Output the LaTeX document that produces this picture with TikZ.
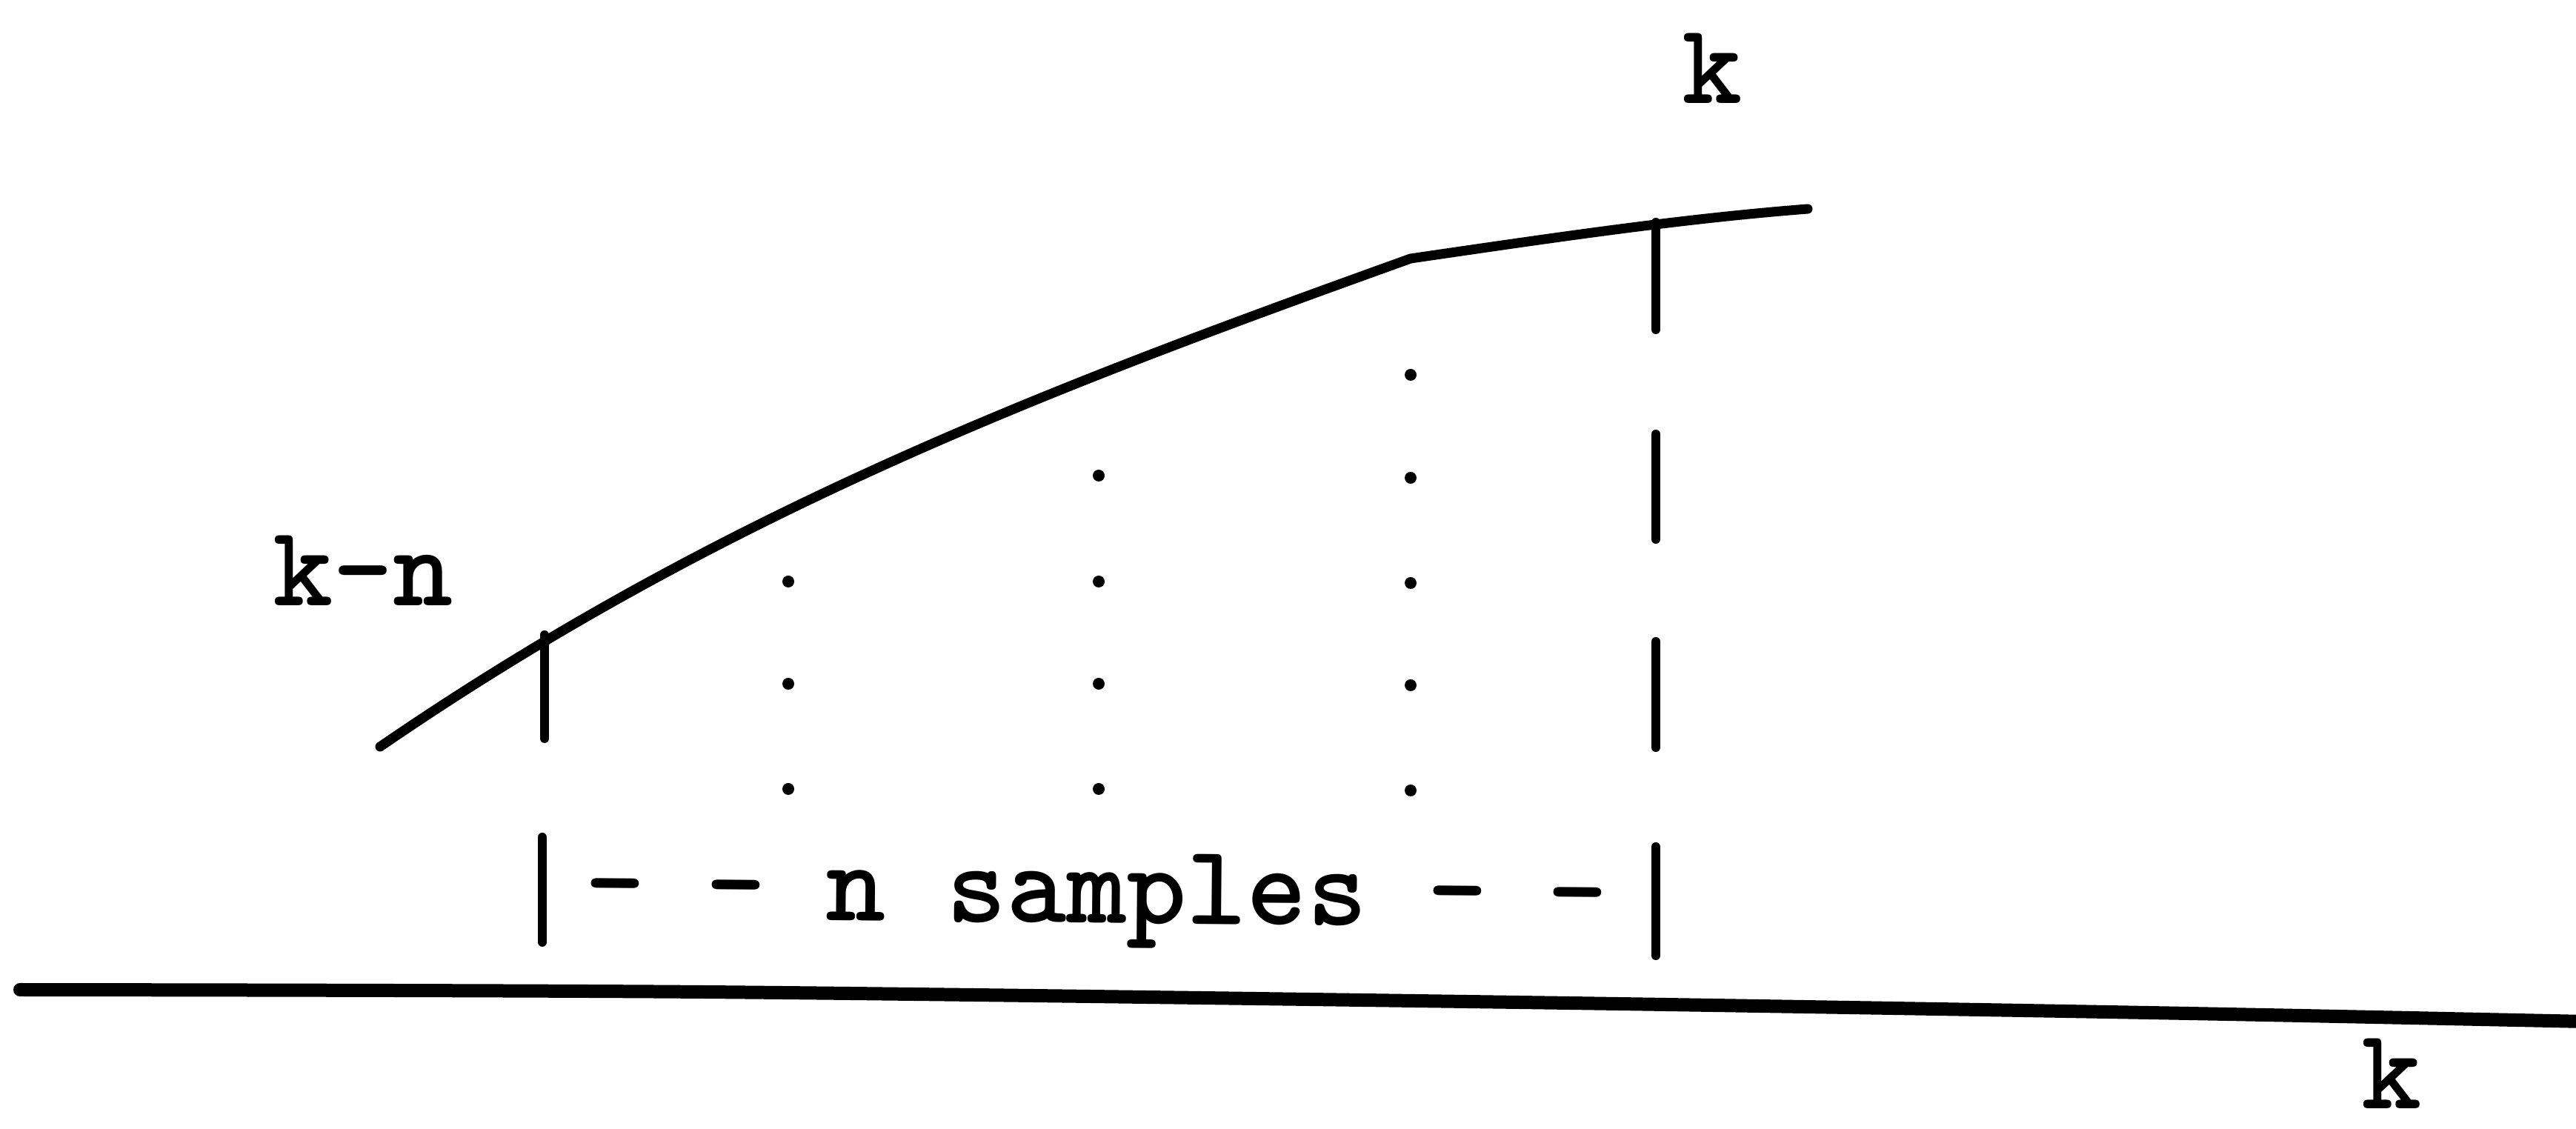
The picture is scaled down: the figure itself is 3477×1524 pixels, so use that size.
\documentclass[tikz,border=0pt]{standalone}
\begin{document}
\begin{tikzpicture}[x=0.1mm,y=-0.1mm,line cap=round,line join=round,
  curveline/.style={line width=1.3mm},
  tickline/.style={line width=1.2mm},
  axisline/.style={line width=1.8mm},
  lbl/.style={font=\fontsize{44}{50}\selectfont\ttfamily\bfseries,inner sep=0pt,anchor=base}]
\useasboundingbox (0,0) rectangle (3477,1524);
% curve
\coordinate (c0) at (513,1008);
\coordinate (c1) at (735,857);
\coordinate (c4) at (1904,349);
\coordinate (c5) at (2235,300);
\coordinate (c6) at (2440,282);
\draw[curveline] (c0) .. controls (985,684) and (1440,516) .. (c4)
                      .. controls (2083,323) and (2261,296) .. (c6);
% left tick and bar
\coordinate (t1) at (735,997);
\draw[tickline] (c1) -- (t1);
\coordinate (b1a) at (732,1130);
\coordinate (b1b) at (732,1272);
\draw[tickline] (b1a) -- (b1b);
% dashed vertical at k
\foreach \ya/\yb in {300/445,586/728,866/1009,1143/1290}
  \draw[tickline] (2235,\ya) -- (2235,\yb);
% dotted columns
\foreach \yy in {785,923,1065} \fill (1064,\yy) circle[radius=8];
\foreach \yy in {642,785,923,1065} \fill (1483,\yy) circle[radius=8];
\foreach \yy in {506,645,787,925,1067} \fill (1904,\yy) circle[radius=8];
% axis
\coordinate (a0) at (27,1336);
\coordinate (a1) at (3490,1379);
\draw[axisline] plot[smooth,tension=0.5] coordinates {(a0) (950,1339) (2050,1353) (2900,1367) (a1)};
% labels
\node[lbl] (ktop) at (2311,140) {k};
\node[lbl] (kn) at (490,818) {k-n};
\node[lbl] (kax) at (3228,1497) {k};
\node[lbl,rotate=-0.5] (ns) at (1480,1246) {- - n samples - -};
\end{tikzpicture}
\end{document}
